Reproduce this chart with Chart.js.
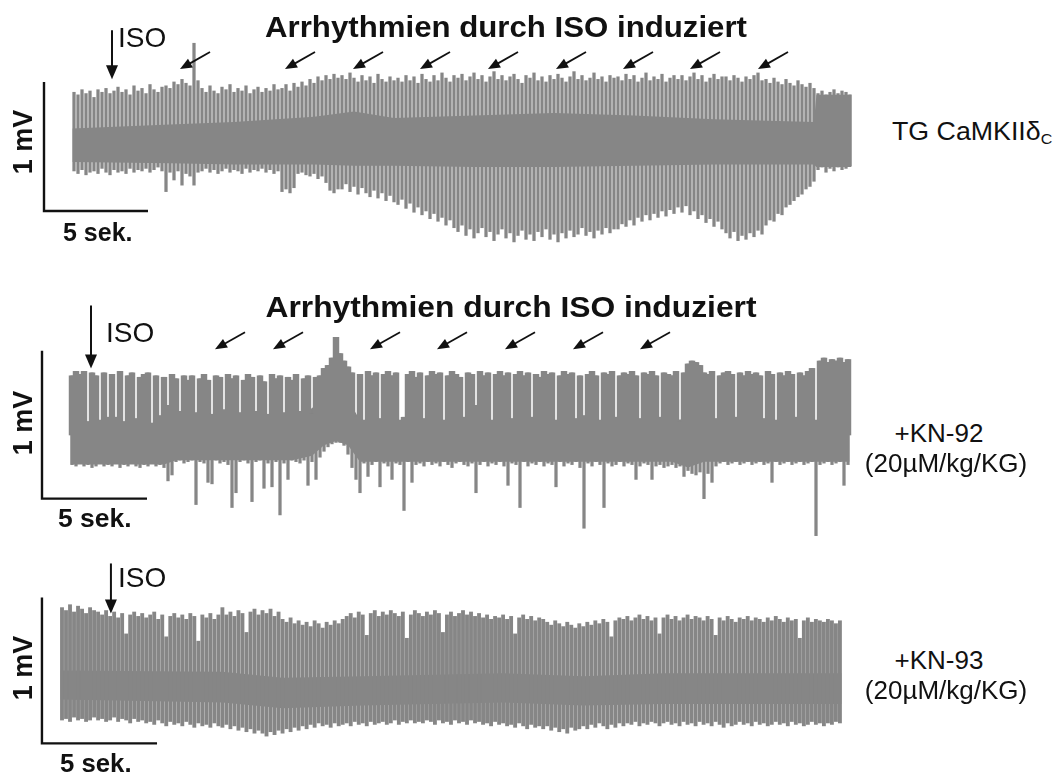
<!DOCTYPE html>
<html>
<head>
<meta charset="utf-8">
<script src="https://cdn.jsdelivr.net/npm/chart.js@4.4.1/dist/chart.umd.min.js"></script>
<style>
  html,body{margin:0;padding:0;background:#fff;}
  #wrap{position:relative;width:1059px;height:776px;overflow:hidden;background:#fff;}
  canvas{position:absolute;left:0;}
  .t{position:absolute;white-space:nowrap;line-height:1;color:#111;font-family:"Liberation Sans",Arial,Helvetica,sans-serif;}
  .t sub{font-size:15px;vertical-align:-4px;line-height:1;}
</style>
</head>
<body>
<div id="wrap">
  <canvas id="c1" width="880" height="260" style="top:0px"></canvas>
  <canvas id="c2" width="880" height="265" style="top:285px"></canvas>
  <canvas id="c3" width="880" height="221" style="top:555px"></canvas>
</div>
<script>
// ---------------- DATA (mV per visible beat; beat number on x) ----------------
// Panel 1: TG CaMKIIdeltaC
const topTraceTop = [
 0.37,0.35,0.39,0.36,0.38,0.33,0.39,0.37,0.40,0.36,0.38,0.41,0.37,0.39,0.35,0.42,0.38,0.40,0.36,0.43,0.39,0.37,0.41,
 0.42,0.40,0.45,0.43,0.47,0.44,0.42,0.75,0.46,
 0.40,0.37,0.42,0.38,0.36,0.41,0.39,0.43,0.37,0.40,0.38,0.42,0.36,0.39,0.41,0.37,0.40,0.38,0.43,0.39,
 0.40,0.43,0.38,0.44,0.41,0.45,0.42,0.47,0.44,0.49,0.46,0.50,0.47,0.51,0.48,
 0.50,0.47,0.52,0.48,0.45,0.50,0.46,0.49,0.44,0.51,0.47,0.45,0.49,0.46,
 0.48,0.45,0.50,0.46,0.49,0.44,0.51,0.47,0.45,0.50,0.46,0.52,0.48,0.45,0.50,
 0.48,0.51,0.46,0.49,0.52,0.47,0.50,0.45,0.49,0.53,0.47,0.50,0.46,0.49,0.51,0.47,0.44,0.50,0.48,0.52,
 0.46,0.49,0.45,0.50,0.47,0.51,0.48,0.45,0.49,0.53,0.47,0.50,0.46,0.48,0.52,0.47,0.49,0.45,0.50,0.48,
 0.49,0.46,0.51,0.47,0.50,0.45,0.48,0.52,0.46,0.49,0.47,0.51,0.45,0.48,0.50,
 0.47,0.50,0.46,0.49,0.52,0.47,0.50,0.45,0.48,0.51,0.47,0.49,
 0.49,0.46,0.50,0.48,0.45,0.49,0.47,0.50,0.52,0.46,
 0.47,0.44,0.48,0.45,0.43,0.47,0.44,0.42,0.46,0.43,0.41,0.44,0.40,
 0.36,0.38,0.35,0.37,0.39,0.36,0.38,0.37,0.35];
const topTraceBottom = [
 -0.24,-0.26,-0.23,-0.27,-0.25,-0.24,-0.26,-0.22,-0.25,-0.27,-0.23,-0.25,-0.24,-0.26,-0.22,-0.25,-0.23,-0.24,-0.22,-0.25,-0.23,-0.21,-0.24,
 -0.40,-0.25,-0.31,-0.24,-0.35,-0.26,-0.28,-0.35,-0.25,
 -0.24,-0.22,-0.25,-0.23,-0.26,-0.24,-0.22,-0.25,-0.23,-0.24,-0.26,-0.22,-0.25,-0.23,-0.24,-0.22,-0.25,-0.23,-0.26,-0.24,
 -0.40,-0.38,-0.41,-0.37,-0.26,-0.25,-0.27,-0.28,-0.26,-0.30,-0.28,-0.33,-0.39,-0.41,-0.38,
 -0.38,-0.34,-0.40,-0.36,-0.42,-0.37,-0.41,-0.44,-0.39,-0.45,-0.41,-0.47,-0.43,-0.48,
 -0.50,-0.46,-0.53,-0.49,-0.56,-0.52,-0.58,-0.55,-0.61,-0.57,-0.63,-0.60,-0.66,-0.62,-0.68,
 -0.71,-0.66,-0.74,-0.69,-0.76,-0.72,-0.68,-0.75,-0.71,-0.78,-0.73,-0.69,-0.76,-0.72,-0.79,-0.74,-0.70,-0.77,-0.73,-0.78,
 -0.71,-0.75,-0.69,-0.77,-0.73,-0.79,-0.72,-0.76,-0.70,-0.75,-0.73,-0.68,-0.74,-0.71,-0.76,-0.70,-0.73,-0.68,-0.72,-0.69,
 -0.69,-0.65,-0.67,-0.62,-0.66,-0.60,-0.63,-0.58,-0.62,-0.57,-0.60,-0.55,-0.59,-0.54,-0.57,
 -0.52,-0.56,-0.51,-0.58,-0.55,-0.61,-0.58,-0.64,-0.61,-0.67,-0.63,-0.69,
 -0.72,-0.76,-0.71,-0.78,-0.74,-0.77,-0.72,-0.75,-0.70,-0.73,
 -0.66,-0.62,-0.63,-0.57,-0.58,-0.52,-0.50,-0.47,-0.44,-0.42,-0.38,-0.36,-0.32,
 -0.23,-0.21,-0.25,-0.22,-0.24,-0.21,-0.23,-0.22,-0.20];
const topBandAt   = [-0.4, 24, 40, 60, 70, 80, 100, 120, 140, 160, 185, 185.6, 194.4];
const topBandHigh = [0.09, 0.12, 0.14, 0.18, 0.22, 0.17, 0.19, 0.21, 0.19, 0.16, 0.14, 0.35, 0.35];
const topBandLow  = [-0.17,-0.18,-0.19,-0.19,-0.20,-0.20,-0.21,-0.21,-0.20,-0.19,-0.19,-0.21,-0.21];
const topArrowBeats = [26.5, 52.75, 69.75, 86.5, 103.5, 120.5, 137.25, 154, 171];

// Panel 2: +KN-92
const midTraceTop = [
 0.40,0.43,0.41,0.43,0.09,0.42,0.40,0.10,0.42,0.12,
 0.41,0.12,0.43,0.09,0.40,0.42,0.11,0.39,0.41,0.42,
 0.08,0.40,0.13,0.39,0.20,0.41,0.38,0.16,0.40,0.37,
 0.40,0.15,0.38,0.41,0.37,0.14,0.40,0.39,0.17,0.41,
 0.38,0.40,0.15,0.37,0.41,0.39,0.16,0.40,0.36,0.14,
 0.41,0.38,0.40,0.15,0.39,0.37,0.41,0.16,0.38,0.40,
 0.14,0.39,0.40,0.45,0.47,0.52,0.66,0.55,0.50,0.46,
 0.42,0.12,0.41,0.10,0.43,0.40,0.42,0.11,0.41,0.43,
 0.40,0.42,0.10,0.12,0.41,0.43,0.39,0.42,0.11,0.40,
 0.43,0.41,0.42,0.10,0.40,0.43,0.41,0.39,0.12,0.42,
 0.41,0.20,0.43,0.40,0.42,0.10,0.41,0.43,0.40,0.42,
 0.11,0.41,0.43,0.40,0.42,0.12,0.41,0.39,0.43,0.41,
 0.42,0.10,0.40,0.43,0.41,0.42,0.11,0.40,0.13,0.41,
 0.43,0.40,0.10,0.42,0.41,0.43,0.12,0.40,0.42,0.41,
 0.43,0.40,0.11,0.42,0.41,0.43,0.40,0.12,0.42,0.41,
 0.40,0.43,0.09,0.42,0.48,0.50,0.49,0.47,0.42,0.41,
 0.43,0.11,0.40,0.42,0.43,0.41,0.12,0.42,0.40,0.43,
 0.41,0.42,0.40,0.11,0.43,0.41,0.10,0.42,0.40,0.43,
 0.41,0.12,0.42,0.40,0.43,0.45,0.10,0.50,0.52,0.49,
 0.51,0.50,0.52,0.49,0.51];
const midTraceBottom = [
 -0.20,-0.21,-0.19,-0.21,-0.20,-0.22,-0.21,-0.19,-0.21,-0.20,
 -0.21,-0.19,-0.22,-0.20,-0.21,-0.19,-0.21,-0.22,-0.20,-0.21,
 -0.19,-0.21,-0.20,-0.22,-0.31,-0.27,-0.18,-0.17,-0.19,-0.18,
 -0.17,-0.47,-0.18,-0.19,-0.32,-0.33,-0.17,-0.19,-0.18,-0.20,
 -0.49,-0.39,-0.18,-0.17,-0.19,-0.45,-0.18,-0.17,-0.36,-0.19,
 -0.35,-0.18,-0.54,-0.19,-0.30,-0.17,-0.18,-0.19,-0.17,-0.34,
 -0.18,-0.30,-0.15,-0.11,-0.08,-0.06,-0.05,-0.05,-0.07,-0.13,
 -0.22,-0.30,-0.39,-0.19,-0.28,-0.20,-0.18,-0.35,-0.19,-0.21,
 -0.30,-0.19,-0.20,-0.51,-0.18,-0.32,-0.20,-0.19,-0.21,-0.18,
 -0.20,-0.19,-0.21,-0.18,-0.20,-0.22,-0.19,-0.18,-0.20,-0.21,
 -0.19,-0.39,-0.20,-0.18,-0.21,-0.19,-0.20,-0.18,-0.21,-0.34,
 -0.19,-0.20,-0.49,-0.18,-0.21,-0.19,-0.20,-0.18,-0.21,-0.19,
 -0.20,-0.35,-0.18,-0.21,-0.19,-0.20,-0.18,-0.22,-0.63,-0.19,
 -0.21,-0.18,-0.20,-0.49,-0.19,-0.21,-0.20,-0.18,-0.21,-0.19,
 -0.20,-0.30,-0.21,-0.19,-0.20,-0.30,-0.21,-0.20,-0.22,-0.21,
 -0.20,-0.22,-0.21,-0.28,-0.24,-0.26,-0.27,-0.25,-0.43,-0.26,
 -0.32,-0.21,-0.19,-0.18,-0.20,-0.19,-0.18,-0.20,-0.19,-0.18,
 -0.20,-0.19,-0.18,-0.20,-0.19,-0.32,-0.18,-0.20,-0.19,-0.18,
 -0.20,-0.19,-0.18,-0.20,-0.19,-0.18,-0.68,-0.20,-0.19,-0.18,
 -0.20,-0.19,-0.18,-0.34,-0.20];
const midBandAt   = [-0.4, 23, 26, 55, 60, 63, 66, 69, 72, 110, 150, 154, 158, 185, 194.4];
const midBandHigh = [0.08, 0.08, 0.14, 0.14, 0.18, 0.27, 0.37, 0.24, 0.10, 0.10, 0.10, 0.11, 0.10, 0.10, 0.11];
const midBandLow  = [-0.20,-0.20,-0.17,-0.17,-0.14,-0.07,-0.04,-0.07,-0.18,-0.18,-0.18,-0.22,-0.18,-0.18,-0.18];
const midArrowBeats = [35.75, 50.25, 74.5, 91.25, 108.25, 125.25, 142];

// Panel 3: +KN-93
const botTraceTop = [
 0.53,0.51,0.55,0.50,0.54,0.52,0.49,0.53,0.51,0.50,
 0.48,0.51,0.47,0.50,0.46,0.49,0.35,0.48,0.50,0.47,
 0.49,0.46,0.48,0.50,0.45,0.48,0.33,0.47,0.49,0.46,
 0.48,0.45,0.49,0.47,0.30,0.48,0.46,0.49,0.45,0.48,
 0.53,0.48,0.50,0.47,0.51,0.49,0.36,0.50,0.52,0.48,
 0.51,0.49,0.52,0.47,0.50,0.45,0.43,0.46,0.42,0.44,
 0.41,0.43,0.40,0.44,0.42,0.39,0.43,0.41,0.44,0.42,
 0.45,0.47,0.49,0.46,0.50,0.48,0.34,0.49,0.51,0.47,
 0.50,0.48,0.51,0.49,0.47,0.50,0.32,0.48,0.51,0.49,
 0.47,0.50,0.48,0.51,0.49,0.36,0.48,0.50,0.47,0.49,
 0.51,0.48,0.50,0.47,0.49,0.46,0.48,0.45,0.47,0.46,
 0.48,0.45,0.47,0.35,0.46,0.48,0.45,0.47,0.44,0.46,
 0.45,0.43,0.41,0.44,0.42,0.40,0.43,0.41,0.39,0.42,
 0.40,0.43,0.41,0.44,0.42,0.45,0.43,0.33,0.44,0.46,
 0.45,0.47,0.44,0.46,0.48,0.45,0.47,0.44,0.46,0.35,
 0.46,0.48,0.45,0.47,0.44,0.46,0.48,0.45,0.47,0.46,
 0.44,0.47,0.45,0.34,0.46,0.44,0.47,0.45,0.43,0.46,
 0.45,0.47,0.44,0.46,0.45,0.43,0.46,0.44,0.47,0.45,
 0.43,0.46,0.44,0.45,0.32,0.44,0.46,0.43,0.45,0.44,
 0.43,0.45,0.44,0.42,0.44];
const botTraceBottom = [
 -0.24,-0.23,-0.25,-0.22,-0.24,-0.23,-0.25,-0.24,-0.22,-0.24,
 -0.23,-0.25,-0.24,-0.22,-0.25,-0.23,-0.24,-0.26,-0.23,-0.25,
 -0.24,-0.26,-0.25,-0.27,-0.24,-0.26,-0.28,-0.25,-0.27,-0.26,
 -0.28,-0.25,-0.27,-0.29,-0.26,-0.28,-0.27,-0.29,-0.26,-0.28,
 -0.29,-0.27,-0.30,-0.28,-0.31,-0.29,-0.32,-0.30,-0.33,-0.31,
 -0.33,-0.35,-0.32,-0.34,-0.31,-0.33,-0.30,-0.32,-0.29,-0.31,
 -0.28,-0.30,-0.27,-0.29,-0.26,-0.28,-0.27,-0.29,-0.26,-0.28,
 -0.27,-0.26,-0.28,-0.25,-0.27,-0.26,-0.28,-0.25,-0.27,-0.26,
 -0.25,-0.27,-0.26,-0.24,-0.27,-0.25,-0.26,-0.24,-0.26,-0.25,
 -0.26,-0.24,-0.25,-0.27,-0.24,-0.26,-0.25,-0.27,-0.24,-0.26,
 -0.25,-0.27,-0.24,-0.26,-0.25,-0.27,-0.26,-0.28,-0.25,-0.27,
 -0.26,-0.28,-0.27,-0.29,-0.26,-0.28,-0.30,-0.27,-0.29,-0.28,
 -0.30,-0.28,-0.31,-0.29,-0.32,-0.30,-0.33,-0.29,-0.31,-0.30,
 -0.28,-0.30,-0.27,-0.29,-0.26,-0.28,-0.30,-0.27,-0.29,-0.26,
 -0.28,-0.26,-0.27,-0.25,-0.28,-0.26,-0.27,-0.25,-0.26,-0.28,
 -0.26,-0.25,-0.27,-0.26,-0.28,-0.25,-0.27,-0.26,-0.28,-0.25,
 -0.27,-0.26,-0.28,-0.25,-0.27,-0.29,-0.26,-0.28,-0.27,-0.25,
 -0.27,-0.26,-0.28,-0.25,-0.27,-0.26,-0.28,-0.27,-0.25,-0.27,
 -0.26,-0.28,-0.25,-0.27,-0.26,-0.28,-0.27,-0.25,-0.27,-0.26,
 -0.28,-0.26,-0.27,-0.25,-0.26];
const botBandAt   = [-0.4, 40, 55, 75, 110, 130, 150, 194.4];
const botBandHigh = [0.10, 0.09, 0.05, 0.06, 0.08, 0.06, 0.08, 0.08];
const botBandLow  = [-0.10,-0.12,-0.16,-0.14,-0.12,-0.14,-0.13,-0.13];

// scale bars: 1 mV vertical, 5 s horizontal (expressed in beats of each trace)
const scaleBarMv = 1;
const scaleBarSec = 5;
const beatsPer5s = [26, 26.25, 28.7];

// ---------------- DRAWING ----------------
const GRAY = '#868686';
const INK = '#111111';

const marksPlugin = {
  id: 'ecgMarks',
  afterDatasetsDraw(chart, args, o) {
    if (!o || !o.bar) return;
    const ctx = chart.ctx, xs = chart.scales.x, ys = chart.scales.y;
    ctx.save();
    ctx.strokeStyle = INK; ctx.fillStyle = INK; ctx.lineCap = 'butt';
    const X0 = xs.getPixelForValue(o.bar.x0);
    const X1 = xs.getPixelForValue(o.bar.x0 + o.bar.beats);
    const Y0 = ys.getPixelForValue(o.bar.v0);
    const Y1 = ys.getPixelForValue(o.bar.v0 + scaleBarMv);
    ctx.lineWidth = 2.4;
    ctx.beginPath(); ctx.moveTo(X0, Y1); ctx.lineTo(X0, Y0); ctx.lineTo(X1, Y0); ctx.stroke();
    if (o.iso) {
      const tx = xs.getPixelForValue(o.iso.x), ty = ys.getPixelForValue(o.iso.v);
      ctx.lineWidth = 2;
      ctx.beginPath(); ctx.moveTo(tx, ty - o.iso.len); ctx.lineTo(tx, ty - 12); ctx.stroke();
      head(ctx, tx, ty, 0, -1, 14, 12);
    }
    (o.arrows || []).forEach(b => {
      const tx = xs.getPixelForValue(b), ty = ys.getPixelForValue(o.arrowV);
      const dx = 30, dy = -17, L = Math.hypot(dx, dy), ux = dx / L, uy = dy / L;
      ctx.lineWidth = 1.8;
      ctx.beginPath(); ctx.moveTo(tx + ux * 10, ty + uy * 10); ctx.lineTo(tx + dx, ty + dy); ctx.stroke();
      head(ctx, tx, ty, ux, uy, 12, 10);
    });
    ctx.restore();
  }
};
function head(ctx, tx, ty, ux, uy, len, wid) {
  const bx = tx + ux * len, by = ty + uy * len, nx = -uy, ny = ux;
  ctx.beginPath();
  ctx.moveTo(tx, ty);
  ctx.lineTo(bx + nx * wid / 2, by + ny * wid / 2);
  ctx.lineTo(bx - nx * wid / 2, by - ny * wid / 2);
  ctx.closePath(); ctx.fill();
}

function ecgChart(id, d, L) {
  const cv = document.getElementById(id);
  const W = cv.width, H = cv.height;
  const beats = d.top.map((t, i) => ({ x: i, y: [d.bottom[i], t] }));
  const hi = d.bandAt.map((x, k) => ({ x: x, y: d.bandHigh[k] }));
  const lo = d.bandAt.map((x, k) => ({ x: x, y: d.bandLow[k] }));
  const sets = [
    { type: 'line', data: hi, fill: '+1', backgroundColor: GRAY, borderWidth: 0, pointRadius: 0, tension: 0, order: 3 },
    { type: 'line', data: lo, fill: false, borderWidth: 0, pointRadius: 0, tension: 0, order: 4 },
    { type: 'bar', data: beats, backgroundColor: GRAY, borderWidth: 0, barThickness: L.th, grouped: false, order: 1 }
  ];
  if (L.upperTh) {
    // upper (positive) part of each beat, drawn wider so adjacent beats merge into a block
    sets.push({ type: 'bar', data: d.top.map((t, i) => ({ x: i, y: [0, t] })), backgroundColor: GRAY,
                borderWidth: 0, barThickness: L.upperTh, grouped: false, order: 2 });
  }
  return new Chart(cv, {
    type: 'bar',
    data: { datasets: sets },
    options: {
      responsive: false, animation: false, events: [],
      layout: { padding: 0 },
      plugins: { legend: { display: false }, tooltip: { enabled: false }, ecgMarks: d.marks },
      scales: {
        x: { type: 'linear', display: false, offset: false, bounds: 'data', grace: 0,
             min: -L.px0 / L.ppu, max: (W - L.px0) / L.ppu },
        y: { type: 'linear', display: false, offset: false, grace: 0,
             min: -(H - L.py0) / L.ppm, max: L.py0 / L.ppm }
      }
    },
    plugins: [marksPlugin]
  });
}

ecgChart('c1', {
  top: topTraceTop, bottom: topTraceBottom, bandAt: topBandAt, bandHigh: topBandHigh, bandLow: topBandLow,
  marks: { bar: { x0: -7.5, beats: beatsPer5s[0], v0: -0.55 }, iso: { x: 9.5, v: 0.47, len: 49 }, arrows: topArrowBeats, arrowV: 0.55 }
}, { px0: 74, ppu: 4, py0: 140, ppm: 129, th: 2.6 });

ecgChart('c2', {
  top: midTraceTop, bottom: midTraceBottom, bandAt: midBandAt, bandHigh: midBandHigh, bandLow: midBandLow,
  marks: { bar: { x0: -7.5, beats: beatsPer5s[1], v0: -0.43 }, iso: { x: 4.75, v: 0.45, len: 63 }, arrows: midArrowBeats, arrowV: 0.58 }
}, { px0: 72, ppu: 4, py0: 150, ppm: 148, th: 2.6, upperTh: 5.8 });

ecgChart('c3', {
  top: botTraceTop, bottom: botTraceBottom, bandAt: botBandAt, bandHigh: botBandHigh, bandLow: botBandLow,
  marks: { bar: { x0: -5.0, beats: beatsPer5s[2], v0: -0.40 }, iso: { x: 12.2, v: 0.49, len: 50 }, arrows: [], arrowV: 0 }
}, { px0: 62, ppu: 4.01, py0: 130, ppm: 146, th: 3.2 });

// ---------------- TEXT ----------------
const wrap = document.getElementById('wrap');
function txt(html, o) {
  const e = document.createElement('div');
  e.className = 't';
  e.innerHTML = html;
  e.style.fontSize = o.size + 'px';
  e.style.fontWeight = o.bold ? '700' : '400';
  const s = o.sx || 1;
  if (o.rot) {
    e.style.left = o.x + 'px'; e.style.top = o.y + 'px';
    e.style.transform = 'translate(-50%,-50%) rotate(-90deg) scaleX(' + s + ')';
  } else {
    e.style.top = (o.y - 0.8465 * o.size) + 'px';
    e.style.left = o.x + 'px';
    if (o.center) { e.style.transform = 'translateX(-50%) scaleX(' + s + ')'; }
    else { e.style.transformOrigin = 'left center'; e.style.transform = 'scaleX(' + s + ')'; }
  }
  wrap.appendChild(e);
}
const title = 'Arrhythmien durch ISO induziert';
txt(title, { x: 506, y: 37, size: 30, bold: true, center: true, sx: 1.04 });
txt(title, { x: 511, y: 317, size: 30, bold: true, center: true, sx: 1.06 });
txt('ISO', { x: 118, y: 48, size: 28 });
txt('ISO', { x: 106, y: 343, size: 28 });
txt('ISO', { x: 118, y: 588, size: 28 });
txt('1 mV', { x: 23, y: 142, size: 27, bold: true, rot: true });
txt('1 mV', { x: 23, y: 423, size: 27, bold: true, rot: true });
txt('1 mV', { x: 23, y: 668, size: 27, bold: true, rot: true });
txt('5 sek.', { x: 63, y: 241, size: 25, bold: true });
txt('5 sek.', { x: 58, y: 527, size: 25, bold: true, sx: 1.06 });
txt('5 sek.', { x: 60, y: 772, size: 25, bold: true, sx: 1.03 });
txt('TG CaMKII&delta;<sub>C</sub>', { x: 892, y: 140, size: 25, sx: 1.07 });
txt('+KN-92', { x: 939, y: 442, size: 25, center: true, sx: 1.04 });
txt('(20&micro;M/kg/KG)', { x: 946, y: 472, size: 25, center: true, sx: 1.04 });
txt('+KN-93', { x: 939, y: 669, size: 25, center: true, sx: 1.04 });
txt('(20&micro;M/kg/KG)', { x: 946, y: 699, size: 25, center: true, sx: 1.04 });
</script>
</body>
</html>
